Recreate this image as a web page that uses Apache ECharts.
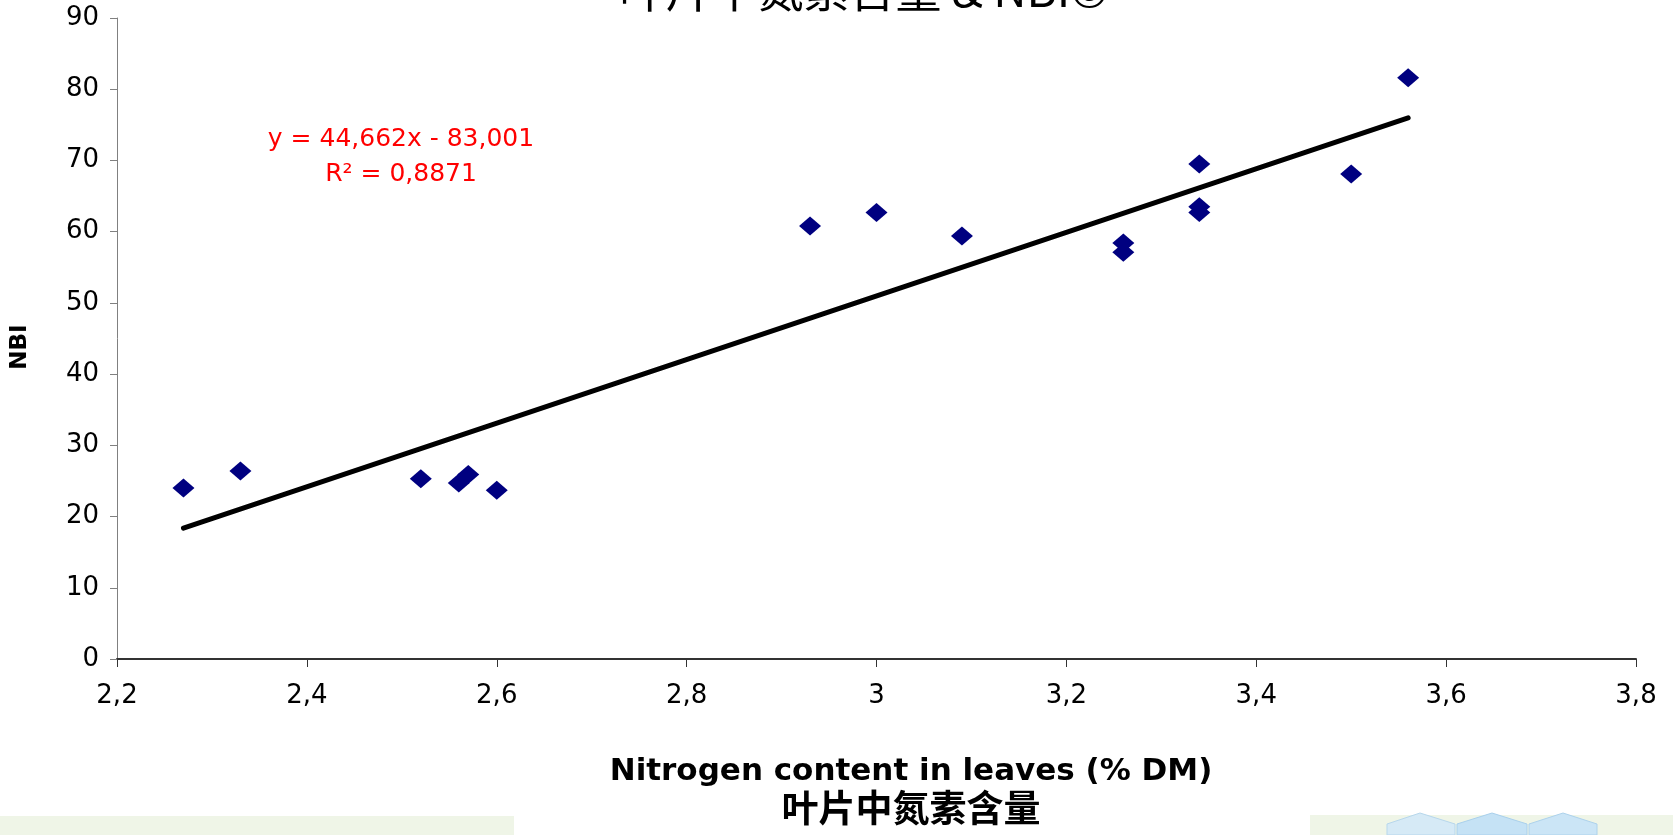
<!DOCTYPE html>
<html><head><meta charset="utf-8">
<script src="https://cdn.jsdelivr.net/npm/echarts@6/dist/echarts.min.js"></script>
<style>html,body{margin:0;padding:0;background:#fff}#c{width:1673px;height:835px}</style>
</head><body><div id="c"></div>
<script>
// Data
const nitrogen = [2.27, 2.33, 2.52, 2.56, 2.57, 2.60, 2.93, 3.00, 3.09, 3.26, 3.26, 3.34, 3.34, 3.34, 3.50, 3.56];
const nbi      = [24.0, 26.4, 25.3, 24.7, 25.9, 23.7, 60.8, 62.7, 59.4, 58.4, 57.1, 69.5, 63.5, 62.7, 68.1, 81.6];
const trendX = [2.27, 3.56];
const trendY = [18.38, 75.99];
const titleText = '叶片中氮素含量 & NBI©';
const equationText = 'y = 44,662x - 83,001';
const r2Text = 'R² = 0,8871';
const xTitle = 'Nitrogen content in leaves (% DM)';
const xTitleCn = '叶片中氮素含量';
const yTitle = 'NBI';

const fontLat = '"DejaVu Sans", "Liberation Sans", Arial, sans-serif';
const fontCn = '"Noto Sans CJK SC", "DejaVu Sans", sans-serif';

const chart = echarts.init(document.getElementById('c'), null, {renderer: 'canvas'});
const fmt = v => String(Math.round(v * 10) / 10).replace('.', ',');

chart.setOption({
  backgroundColor: '#ffffff',
  animation: false,
  grid: {left: 117, right: 37, top: 18, bottom: 176, containLabel: false},
  xAxis: {
    type: 'value', min: 2.2, max: 3.8, interval: 0.2,
    splitLine: {show: false},
    axisLine: {show: true, onZero: false, lineStyle: {color: '#333333', width: 2}},
    axisTick: {show: true, length: 8, lineStyle: {color: '#333333', width: 1}},
    axisLabel: {formatter: fmt, color: '#000', fontFamily: fontLat, fontSize: 26, margin: 24},
  },
  yAxis: {
    type: 'value', min: 0, max: 90, interval: 10,
    splitLine: {show: false},
    axisLine: {show: true, onZero: false, lineStyle: {color: '#808080', width: 1}},
    axisTick: {show: true, length: 7, lineStyle: {color: '#808080', width: 1}},
    axisLabel: {color: '#000', fontFamily: fontLat, fontSize: 26, margin: 18},
  },
  series: [
    {
      type: 'line', data: trendX.map((x, i) => [x, trendY[i]]),
      symbol: 'none', lineStyle: {color: '#000', width: 5, cap: 'round'}, z: 1, silent: true
    },
    {
      type: 'scatter', data: nitrogen.map((x, i) => [x, nbi[i]]),
      symbol: 'diamond', symbolSize: [22, 19],
      itemStyle: {color: '#000080', opacity: 1}, z: 2
    }
  ],
  graphic: [
    {type: 'rect', left: 0, top: 816, shape: {width: 514, height: 19}, style: {fill: '#eff5e7'}, silent: true},
    {type: 'rect', left: 1310, top: 815, shape: {width: 363, height: 20}, style: {fill: '#eff5e7'}, silent: true},
    {type: 'polygon', shape: {points: [[1387,835],[1387,824],[1420,813],[1455,824],[1455,835]]}, style: {fill: '#d6eaf6', stroke: '#b7d7ec'}, silent: true},
    {type: 'polygon', shape: {points: [[1457,835],[1457,824],[1492,813],[1527,824],[1527,835]]}, style: {fill: '#c5e2f5', stroke: '#a9d0ec'}, silent: true},
    {type: 'polygon', shape: {points: [[1529,835],[1529,824],[1563,813],[1597,824],[1597,835]]}, style: {fill: '#cbe5f6', stroke: '#add2ec'}, silent: true},
    {type: 'text', x: 864, y: 13, style: {text: titleText, font: '46px ' + fontCn, fill: '#000', textAlign: 'center', textVerticalAlign: 'bottom'}},
    {type: 'text', x: 401, y: 139, style: {text: equationText, font: '25px ' + fontLat, fill: '#ff0000', textAlign: 'center', textVerticalAlign: 'middle'}},
    {type: 'text', x: 401, y: 174, style: {text: r2Text, font: '25px ' + fontLat, fill: '#ff0000', textAlign: 'center', textVerticalAlign: 'middle'}},
    {type: 'text', x: 911, y: 772, style: {text: xTitle, font: 'bold 31px ' + fontLat, fill: '#000', textAlign: 'center', textVerticalAlign: 'middle'}},
    {type: 'text', x: 911, y: 808, style: {text: xTitleCn, font: 'bold 37px ' + fontCn, fill: '#000', textAlign: 'center', textVerticalAlign: 'middle'}},
    {type: 'text', x: 20, y: 347, rotation: Math.PI / 2, style: {text: yTitle, font: 'bold 23px ' + fontLat, fill: '#000', textAlign: 'center', textVerticalAlign: 'middle'}}
  ]
});
</script></body></html>
